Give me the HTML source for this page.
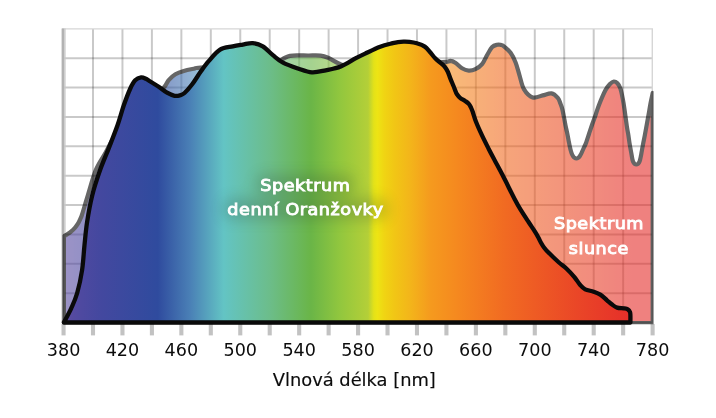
<!DOCTYPE html>
<html lang="cs">
<head>
<meta charset="utf-8">
<title>Spektrum denní Oranžovky</title>
<style>
html,body{margin:0;padding:0;background:#fff;}
body{width:716px;height:418px;overflow:hidden;}
svg{display:block;}
text{font-family:"DejaVu Sans","Liberation Sans",sans-serif;}
.tick{font-size:17px;fill:#0c0c0c;text-anchor:middle;}
.title{font-size:17px;fill:#0c0c0c;stroke:#0c0c0c;stroke-width:0.15px;text-anchor:middle;}
.lab{font-size:16px;fill:#fff;stroke:#fff;stroke-width:0.9px;text-anchor:middle;letter-spacing:0.5px;}
</style>
</head>
<body>
<svg width="716" height="418" viewBox="0 0 716 418">
<defs>
<linearGradient id="spec" gradientUnits="userSpaceOnUse" x1="63.5" y1="0" x2="652.6" y2="0"><stop offset="0.0000" stop-color="#5c4ba0"/><stop offset="0.0300" stop-color="#4e49a0"/><stop offset="0.0650" stop-color="#43489f"/><stop offset="0.1600" stop-color="#2f4b9e"/><stop offset="0.2150" stop-color="#4a80b6"/><stop offset="0.2720" stop-color="#63c4c4"/><stop offset="0.3500" stop-color="#6cbd8a"/><stop offset="0.4200" stop-color="#6ab547"/><stop offset="0.4700" stop-color="#92c73e"/><stop offset="0.5170" stop-color="#b4cf38"/><stop offset="0.5270" stop-color="#e4e218"/><stop offset="0.5330" stop-color="#ede414"/><stop offset="0.5450" stop-color="#f0d413"/><stop offset="0.5620" stop-color="#f1c615"/><stop offset="0.5870" stop-color="#f3b61a"/><stop offset="0.6230" stop-color="#f59a1e"/><stop offset="0.6700" stop-color="#f5881f"/><stop offset="0.7500" stop-color="#f16a22"/><stop offset="0.8700" stop-color="#ea4727"/><stop offset="0.9650" stop-color="#e52e2a"/><stop offset="1.0000" stop-color="#e52e2a"/></linearGradient>
<filter id="glow" filterUnits="userSpaceOnUse" x="180" y="130" width="250" height="130"><feGaussianBlur stdDeviation="7"/></filter>
</defs>
<rect width="716" height="418" fill="#fff"/>
<g stroke="#000" stroke-opacity="0.21" stroke-width="2" fill="none"><line x1="93.00" y1="28.90" x2="93.00" y2="322.50"/><line x1="122.46" y1="28.90" x2="122.46" y2="322.50"/><line x1="151.91" y1="28.90" x2="151.91" y2="322.50"/><line x1="181.36" y1="28.90" x2="181.36" y2="322.50"/><line x1="210.81" y1="28.90" x2="210.81" y2="322.50"/><line x1="240.26" y1="28.90" x2="240.26" y2="322.50"/><line x1="269.72" y1="28.90" x2="269.72" y2="322.50"/><line x1="299.17" y1="28.90" x2="299.17" y2="322.50"/><line x1="328.62" y1="28.90" x2="328.62" y2="322.50"/><line x1="358.08" y1="28.90" x2="358.08" y2="322.50"/><line x1="387.53" y1="28.90" x2="387.53" y2="322.50"/><line x1="416.98" y1="28.90" x2="416.98" y2="322.50"/><line x1="446.43" y1="28.90" x2="446.43" y2="322.50"/><line x1="475.89" y1="28.90" x2="475.89" y2="322.50"/><line x1="505.34" y1="28.90" x2="505.34" y2="322.50"/><line x1="534.79" y1="28.90" x2="534.79" y2="322.50"/><line x1="564.24" y1="28.90" x2="564.24" y2="322.50"/><line x1="593.70" y1="28.90" x2="593.70" y2="322.50"/><line x1="623.15" y1="28.90" x2="623.15" y2="322.50"/><line x1="63.55" y1="58.26" x2="652.60" y2="58.26"/><line x1="63.55" y1="87.62" x2="652.60" y2="87.62"/><line x1="63.55" y1="116.98" x2="652.60" y2="116.98"/><line x1="63.55" y1="146.34" x2="652.60" y2="146.34"/><line x1="63.55" y1="175.70" x2="652.60" y2="175.70"/><line x1="63.55" y1="205.06" x2="652.60" y2="205.06"/><line x1="63.55" y1="234.42" x2="652.60" y2="234.42"/><line x1="63.55" y1="263.78" x2="652.60" y2="263.78"/><line x1="63.55" y1="293.14" x2="652.60" y2="293.14"/><line x1="63.55" y1="322.50" x2="652.60" y2="322.50"/></g>
<path d="M62.05,28.90 H652.30 V322.50" fill="none" stroke="#d6d6d6" stroke-width="1.4"/>
<rect x="61.6" y="28.50" width="2.6" height="294.00" fill="#b2b2b2"/><rect x="64.2" y="28.50" width="1.4" height="294.00" fill="#c8c8c8"/>
<g stroke="#c2c2c2" stroke-width="4.1"><line x1="63.55" y1="324" x2="63.55" y2="335.4"/><line x1="93.00" y1="324" x2="93.00" y2="335.4"/><line x1="122.46" y1="324" x2="122.46" y2="335.4"/><line x1="151.91" y1="324" x2="151.91" y2="335.4"/><line x1="181.36" y1="324" x2="181.36" y2="335.4"/><line x1="210.81" y1="324" x2="210.81" y2="335.4"/><line x1="240.26" y1="324" x2="240.26" y2="335.4"/><line x1="269.72" y1="324" x2="269.72" y2="335.4"/><line x1="299.17" y1="324" x2="299.17" y2="335.4"/><line x1="328.62" y1="324" x2="328.62" y2="335.4"/><line x1="358.08" y1="324" x2="358.08" y2="335.4"/><line x1="387.53" y1="324" x2="387.53" y2="335.4"/><line x1="416.98" y1="324" x2="416.98" y2="335.4"/><line x1="446.43" y1="324" x2="446.43" y2="335.4"/><line x1="475.89" y1="324" x2="475.89" y2="335.4"/><line x1="505.34" y1="324" x2="505.34" y2="335.4"/><line x1="534.79" y1="324" x2="534.79" y2="335.4"/><line x1="564.24" y1="324" x2="564.24" y2="335.4"/><line x1="593.70" y1="324" x2="593.70" y2="335.4"/><line x1="623.15" y1="324" x2="623.15" y2="335.4"/><line x1="652.60" y1="324" x2="652.60" y2="335.4"/></g>
<clipPath id="cl"><rect x="62.5" y="0" width="591.1" height="324.2"/></clipPath><g opacity="0.6" clip-path="url(#cl)"><path d="M63.90,236.20 C64.42,235.90 65.82,235.17 67.00,234.40 C68.18,233.63 69.65,232.73 71.00,231.60 C72.35,230.47 73.92,228.97 75.10,227.60 C76.28,226.23 77.25,224.80 78.10,223.40 C78.95,222.00 79.57,220.60 80.20,219.20 C80.83,217.80 81.17,217.20 81.90,215.00 C82.63,212.80 83.60,209.33 84.60,206.00 C85.60,202.67 86.03,201.00 87.90,195.00 C89.77,189.00 92.87,177.05 95.80,170.00 C98.73,162.95 102.30,158.37 105.50,152.70 C108.70,147.03 110.92,141.45 115.00,136.00 C119.08,130.55 124.50,125.50 130.00,120.00 C135.50,114.50 142.38,108.38 148.00,103.00 C153.62,97.62 160.25,91.52 163.70,87.70 C167.15,83.88 166.75,82.33 168.70,80.10 C170.65,77.87 172.88,75.83 175.40,74.30 C177.92,72.77 180.73,71.83 183.80,70.90 C186.87,69.97 191.00,69.25 193.80,68.70 C196.60,68.15 192.90,68.22 200.60,67.60 C208.30,66.98 228.43,65.68 240.00,65.00 C251.57,64.32 263.50,64.17 270.00,63.50 C276.50,62.83 276.58,61.92 279.00,61.00 C281.42,60.08 282.67,58.85 284.50,58.00 C286.33,57.15 287.92,56.35 290.00,55.90 C292.08,55.45 294.00,55.37 297.00,55.30 C300.00,55.23 304.05,55.45 308.00,55.50 C311.95,55.55 317.33,55.22 320.70,55.60 C324.07,55.98 325.27,56.53 328.20,57.80 C331.13,59.07 334.67,61.75 338.30,63.20 C341.93,64.65 341.38,66.20 350.00,66.50 C358.62,66.80 374.55,65.72 390.00,65.00 C405.45,64.28 432.65,62.88 442.70,62.20 C452.75,61.52 448.20,60.82 450.30,60.90 C452.40,60.98 453.35,61.47 455.30,62.70 C457.25,63.93 459.77,66.98 462.00,68.30 C464.23,69.62 466.47,70.45 468.70,70.60 C470.93,70.75 473.17,70.27 475.40,69.20 C477.63,68.13 480.15,66.55 482.10,64.20 C484.05,61.85 485.42,57.97 487.10,55.10 C488.78,52.23 490.52,48.73 492.20,47.00 C493.88,45.27 495.80,45.05 497.20,44.70 C498.60,44.35 499.48,44.63 500.60,44.90 C501.72,45.17 502.23,44.98 503.90,46.30 C505.57,47.62 508.65,50.10 510.60,52.80 C512.55,55.50 514.12,58.75 515.60,62.50 C517.08,66.25 518.12,70.87 519.50,75.30 C520.88,79.73 521.70,85.42 523.90,89.10 C526.10,92.78 529.57,96.35 532.70,97.40 C535.83,98.45 539.57,96.07 542.70,95.40 C545.83,94.73 548.98,92.98 551.50,93.40 C554.02,93.82 556.32,96.22 557.80,97.90 C559.28,99.58 559.62,101.48 560.40,103.50 C561.18,105.52 561.65,106.37 562.50,110.00 C563.35,113.63 564.70,121.37 565.50,125.30 C566.30,129.23 566.73,130.82 567.30,133.60 C567.87,136.38 568.47,139.77 568.90,142.00 C569.33,144.23 569.57,145.50 569.90,147.00 C570.23,148.50 570.58,149.87 570.90,151.00 C571.22,152.13 571.47,152.98 571.80,153.80 C572.13,154.62 572.48,155.27 572.90,155.90 C573.32,156.53 573.72,157.17 574.30,157.60 C574.88,158.03 575.70,158.50 576.40,158.50 C577.10,158.50 577.92,158.02 578.50,157.60 C579.08,157.18 579.47,156.62 579.90,156.00 C580.33,155.38 580.68,154.73 581.10,153.90 C581.52,153.07 581.88,152.15 582.40,151.00 C582.92,149.85 583.57,148.43 584.20,147.00 C584.83,145.57 585.40,144.57 586.20,142.40 C587.00,140.23 588.07,136.82 589.00,134.00 C589.93,131.18 590.70,128.67 591.80,125.50 C592.90,122.33 594.42,118.38 595.60,115.00 C596.78,111.62 597.27,109.32 598.90,105.20 C600.53,101.08 603.55,93.83 605.40,90.30 C607.25,86.77 608.60,85.47 610.00,84.00 C611.40,82.53 612.57,81.62 613.80,81.50 C615.03,81.38 616.30,82.13 617.40,83.30 C618.50,84.47 619.50,85.88 620.40,88.50 C621.30,91.12 622.10,95.42 622.80,99.00 C623.50,102.58 623.92,105.37 624.60,110.00 C625.28,114.63 626.27,122.58 626.90,126.80 C627.53,131.02 627.95,132.50 628.40,135.30 C628.85,138.10 629.15,140.82 629.60,143.60 C630.05,146.38 630.73,149.93 631.10,152.00 C631.47,154.07 631.55,154.65 631.80,156.00 C632.05,157.35 632.33,159.07 632.60,160.10 C632.87,161.13 633.07,161.58 633.40,162.20 C633.73,162.82 634.12,163.42 634.60,163.80 C635.08,164.18 635.73,164.50 636.30,164.50 C636.87,164.50 637.52,164.18 638.00,163.80 C638.48,163.42 638.87,162.82 639.20,162.20 C639.53,161.58 639.72,161.13 640.00,160.10 C640.28,159.07 640.63,157.32 640.90,156.00 C641.17,154.68 641.23,154.23 641.60,152.20 C641.97,150.17 642.57,146.60 643.10,143.80 C643.63,141.00 643.95,139.92 644.80,135.40 C645.65,130.88 647.23,122.10 648.20,116.70 C649.17,111.30 649.85,106.95 650.60,103.00 C651.35,99.05 652.35,94.67 652.70,93.00 L652.70,323.10 L63.90,323.10 Z" fill="url(#spec)" stroke="#000" stroke-width="4.2" stroke-linejoin="round"/></g>
<path d="M63.80,322.50 C65.03,320.13 68.97,313.22 71.20,308.30 C73.43,303.38 75.38,299.38 77.20,293.00 C79.02,286.62 80.88,278.00 82.10,270.00 C83.32,262.00 83.67,253.00 84.50,245.00 C85.33,237.00 85.82,230.27 87.10,222.00 C88.38,213.73 90.05,204.02 92.20,195.40 C94.35,186.78 97.20,178.27 100.00,170.30 C102.80,162.33 106.07,155.15 109.00,147.60 C111.93,140.05 115.13,132.05 117.60,125.00 C120.07,117.95 121.68,111.38 123.80,105.30 C125.92,99.22 128.40,92.67 130.30,88.50 C132.20,84.33 133.40,82.15 135.20,80.30 C137.00,78.45 139.30,77.65 141.10,77.40 C142.90,77.15 144.47,78.12 146.00,78.80 C147.53,79.48 148.18,80.17 150.30,81.50 C152.42,82.83 155.92,84.93 158.70,86.80 C161.48,88.67 164.35,91.20 167.00,92.70 C169.65,94.20 172.43,95.37 174.60,95.80 C176.77,96.23 178.35,95.77 180.00,95.30 C181.65,94.83 182.47,94.83 184.50,93.00 C186.53,91.17 189.52,87.83 192.20,84.30 C194.88,80.77 197.82,75.70 200.60,71.80 C203.38,67.90 205.65,64.58 208.90,60.90 C212.15,57.22 216.13,52.12 220.10,49.70 C224.07,47.28 228.93,47.25 232.70,46.40 C236.47,45.55 239.35,45.15 242.70,44.60 C246.05,44.05 249.45,42.80 252.80,43.10 C256.15,43.40 259.45,44.38 262.80,46.40 C266.15,48.42 269.53,52.48 272.90,55.20 C276.27,57.92 278.82,60.48 283.00,62.70 C287.18,64.92 293.18,66.90 298.00,68.50 C302.82,70.10 307.28,72.00 311.90,72.30 C316.52,72.60 320.88,71.27 325.70,70.30 C330.52,69.33 335.77,68.52 340.80,66.50 C345.83,64.48 351.85,60.35 355.90,58.20 C359.95,56.05 361.05,55.52 365.10,53.60 C369.15,51.68 375.60,48.43 380.20,46.70 C384.80,44.97 389.73,43.97 392.70,43.20 C395.67,42.43 396.20,42.35 398.00,42.10 C399.80,41.85 401.58,41.73 403.50,41.70 C405.42,41.67 407.28,41.63 409.50,41.90 C411.72,42.17 414.25,42.52 416.80,43.30 C419.35,44.08 422.57,45.10 424.80,46.60 C427.03,48.10 428.47,50.35 430.20,52.30 C431.93,54.25 433.53,56.58 435.20,58.30 C436.87,60.02 438.67,61.27 440.20,62.60 C441.73,63.93 443.13,64.78 444.40,66.30 C445.67,67.82 446.82,69.68 447.80,71.70 C448.78,73.72 449.35,76.02 450.30,78.40 C451.25,80.78 452.68,84.02 453.50,86.00 C454.32,87.98 454.62,88.92 455.20,90.30 C455.78,91.68 456.18,93.05 457.00,94.30 C457.82,95.55 458.75,96.70 460.10,97.80 C461.45,98.90 463.65,99.90 465.10,100.90 C466.55,101.90 467.82,102.68 468.80,103.80 C469.78,104.92 470.35,106.27 471.00,107.60 C471.65,108.93 471.87,109.43 472.70,111.80 C473.53,114.17 474.47,117.90 476.00,121.80 C477.53,125.70 479.80,130.72 481.90,135.20 C484.00,139.68 486.50,144.57 488.60,148.70 C490.70,152.83 492.13,155.52 494.50,160.00 C496.87,164.48 499.32,168.85 502.80,175.60 C506.28,182.35 512.38,194.73 515.40,200.50 C518.42,206.27 518.73,206.65 520.90,210.20 C523.07,213.75 526.03,218.20 528.40,221.80 C530.77,225.40 533.42,229.15 535.10,231.80 C536.78,234.45 537.52,235.88 538.50,237.70 C539.48,239.52 540.02,240.98 541.00,242.70 C541.98,244.42 543.15,246.35 544.40,248.00 C545.65,249.65 546.17,250.27 548.50,252.60 C550.83,254.93 555.38,259.32 558.40,262.00 C561.42,264.68 563.97,266.23 566.60,268.70 C569.23,271.17 571.93,274.08 574.20,276.80 C576.47,279.52 578.37,282.92 580.20,285.00 C582.03,287.08 582.97,288.18 585.20,289.30 C587.43,290.42 591.08,290.82 593.60,291.70 C596.12,292.58 598.07,293.17 600.30,294.60 C602.53,296.03 605.03,298.63 607.00,300.30 C608.97,301.97 610.42,303.38 612.10,304.60 C613.78,305.82 615.15,306.98 617.10,307.60 C619.05,308.22 622.02,308.02 623.80,308.30 C625.58,308.58 626.77,308.68 627.80,309.30 C628.83,309.92 629.57,310.97 630.00,312.00 C630.43,313.03 630.33,313.75 630.40,315.50 C630.47,317.25 630.40,321.33 630.40,322.50 Z" fill="url(#spec)" stroke="#0a0a0a" stroke-width="4.3" stroke-linejoin="round"/>
<g filter="url(#glow)" opacity="0.2" fill="#20382a"><rect x="256" y="174" width="98" height="20" rx="8"/><rect x="223" y="198" width="165" height="22" rx="8"/></g>
<text class="lab" transform="translate(305.30 190.60) scale(1.100 1)" >Spektrum</text>
<text class="lab" transform="translate(305.50 215.00) scale(1.100 1)" >denní Oranžovky</text>
<text class="lab" transform="translate(599.00 229.30) scale(1.100 1)" >Spektrum</text>
<text class="lab" transform="translate(598.80 253.60) scale(1.100 1)" >slunce</text>
<text class="tick" transform="translate(63.55 355.60) scale(1.035 1)" >380</text>
<text class="tick" transform="translate(122.46 355.60) scale(1.035 1)" >420</text>
<text class="tick" transform="translate(181.36 355.60) scale(1.035 1)" >460</text>
<text class="tick" transform="translate(240.26 355.60) scale(1.035 1)" >500</text>
<text class="tick" transform="translate(299.17 355.60) scale(1.035 1)" >540</text>
<text class="tick" transform="translate(358.08 355.60) scale(1.035 1)" >580</text>
<text class="tick" transform="translate(416.98 355.60) scale(1.035 1)" >620</text>
<text class="tick" transform="translate(475.89 355.60) scale(1.035 1)" >660</text>
<text class="tick" transform="translate(534.79 355.60) scale(1.035 1)" >700</text>
<text class="tick" transform="translate(593.70 355.60) scale(1.035 1)" >740</text>
<text class="tick" transform="translate(652.60 355.60) scale(1.035 1)" >780</text>
<text class="title" transform="translate(354.30 385.60) scale(1.050 1)" >Vlnová délka [nm]</text>
</svg>
</body>
</html>
